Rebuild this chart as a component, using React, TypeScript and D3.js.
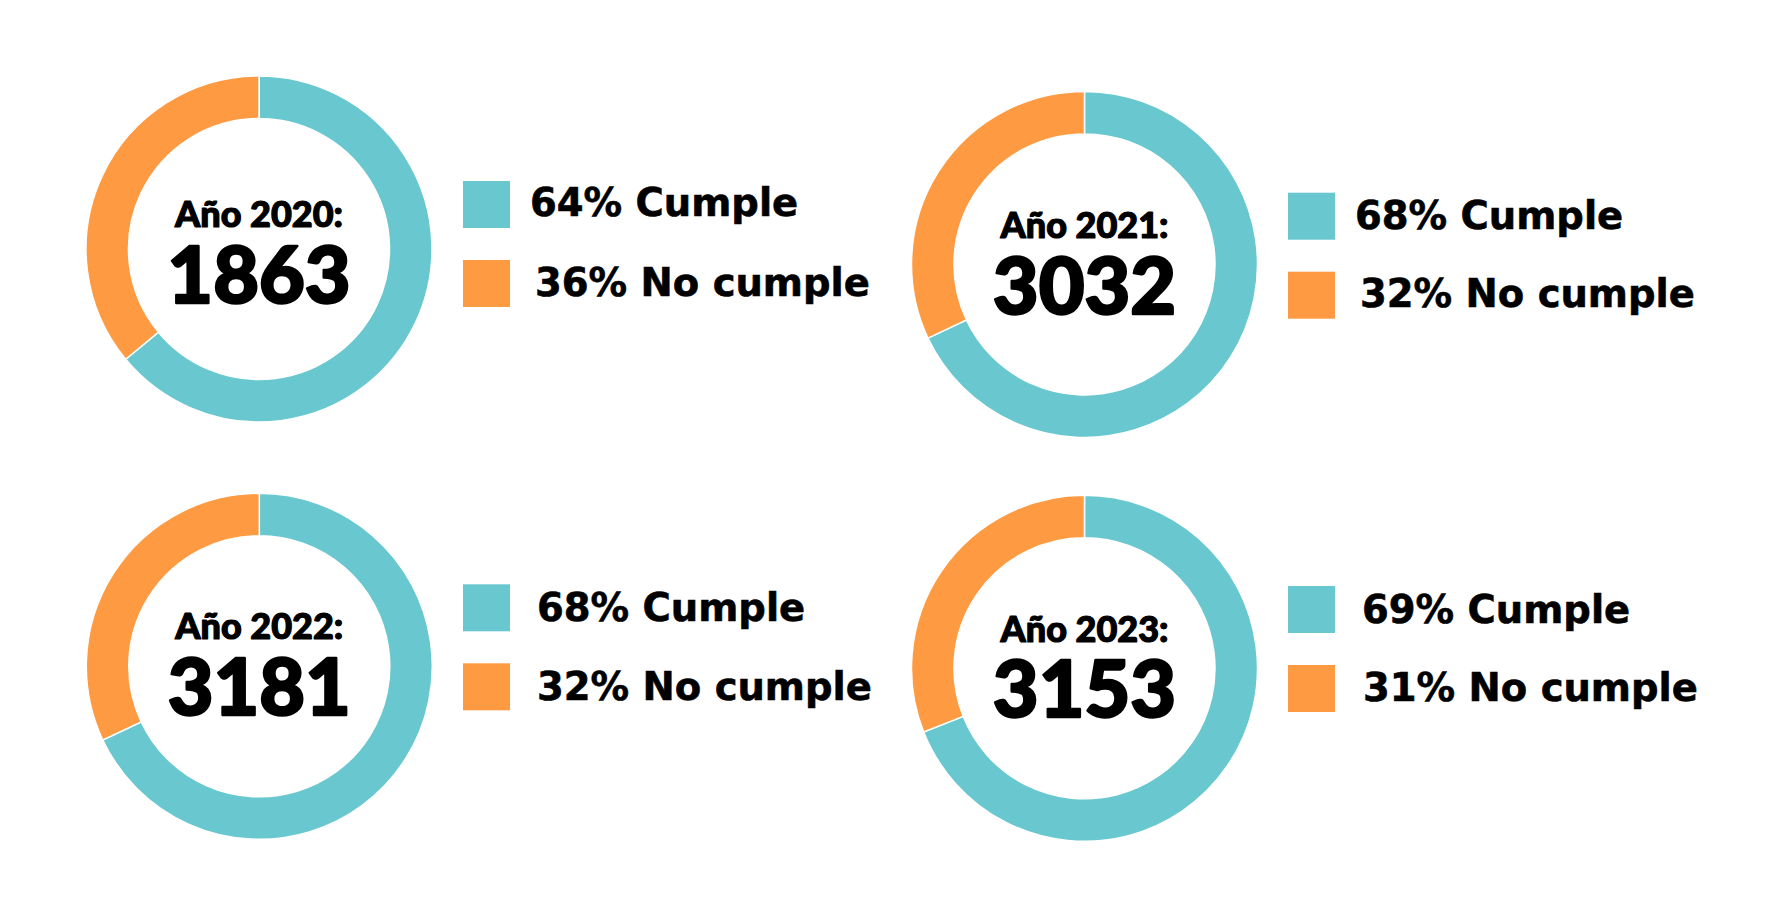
import React from "react";
import * as d3 from "d3";

// Data
const years = ["2020", "2021", "2022", "2023"];
const totals = [1863, 3032, 3181, 3153];
const cumplePct = [64, 68, 68, 69];
const noCumplePct = [36, 32, 32, 31];
const categoryNames = ["Cumple", "No cumple"];
const categoryColors = ["#69c8cf", "#fe9a42"];

// Layout for each panel (donut centre, legend placement, centre-label baselines)
const panelLayout = [
  { cx: 259, cy: 249, yearY: 226.7, totalY: 302.7, sqX: 463, sqY: [181, 260], txX: [530, 535], txY: [216, 296] },
  { cx: 1084.5, cy: 264.4, yearY: 238.3, totalY: 314.3, sqX: 1288, sqY: [192.7, 271.7], txX: [1355, 1360], txY: [229, 307] },
  { cx: 259.3, cy: 666.3, yearY: 639.3, totalY: 715, sqX: 463, sqY: [584.3, 663.3], txX: [537, 537], txY: [621, 700] },
  { cx: 1084.5, cy: 668.3, yearY: 641.7, totalY: 717.3, sqX: 1288, sqY: [586, 665], txX: [1362, 1363], txY: [623, 701] },
];

const OUTER_R = 173;
const INNER_R = 130.5;
const SQ = 47;

const centerFont = "Lato, 'Noto Sans', sans-serif";
const legendFont = "'DejaVu Sans', sans-serif";

export default function App() {
  const pie = d3
    .pie<number>()
    .sort(null)
    .value((d) => d);
  const arc = d3.arc<d3.PieArcDatum<number>>().innerRadius(INNER_R).outerRadius(OUTER_R);
  const color = d3.scaleOrdinal<string, string>().domain(categoryNames).range(categoryColors);

  return (
    <svg width={1781} height={923} style={{ position: "absolute", left: 0, top: 0, background: "#ffffff" }}>
      <rect x={0} y={0} width={1781} height={923} fill="#ffffff" />
      {years.map((year, i) => {
        const L = panelLayout[i];
        const values = [cumplePct[i], noCumplePct[i]];
        const arcs = pie(values);
        const legendLabels = [`${cumplePct[i]}% ${categoryNames[0]}`, `${noCumplePct[i]}% ${categoryNames[1]}`];
        return (
          <g key={year}>
            <g transform={`translate(${L.cx},${L.cy})`}>
              {arcs.map((a, j) => (
                <path
                  key={j}
                  d={arc(a) || ""}
                  fill={color(categoryNames[j])}
                  stroke="#ffffff"
                  strokeWidth={1.5}
                />
              ))}
            </g>
            <text
              x={L.cx}
              y={L.yearY}
              textAnchor="middle"
              fontFamily={centerFont}
              fontWeight={900}
              fontSize={36}
              fill="#000000"
              stroke="#000000"
              strokeWidth={1.2}
              strokeLinejoin="round"
            >
              {`Año ${year}:`}
            </text>
            <text
              x={L.cx}
              y={L.totalY}
              textAnchor="middle"
              fontFamily={centerFont}
              fontWeight={900}
              fontSize={79}
              fill="#000000"
              stroke="#000000"
              strokeWidth={2.4}
              strokeLinejoin="round"
            >
              {String(totals[i])}
            </text>
            {legendLabels.map((lab, j) => (
              <g key={lab}>
                <rect x={L.sqX} y={L.sqY[j]} width={SQ} height={SQ} fill={color(categoryNames[j])} />
                <text
                  x={L.txX[j]}
                  y={L.txY[j]}
                  fontFamily={legendFont}
                  fontWeight={700}
                  fontSize={38.5}
                  fill="#000000"
                  stroke="#000000"
                  strokeWidth={0.6}
                >
                  {lab}
                </text>
              </g>
            ))}
          </g>
        );
      })}
    </svg>
  );
}
